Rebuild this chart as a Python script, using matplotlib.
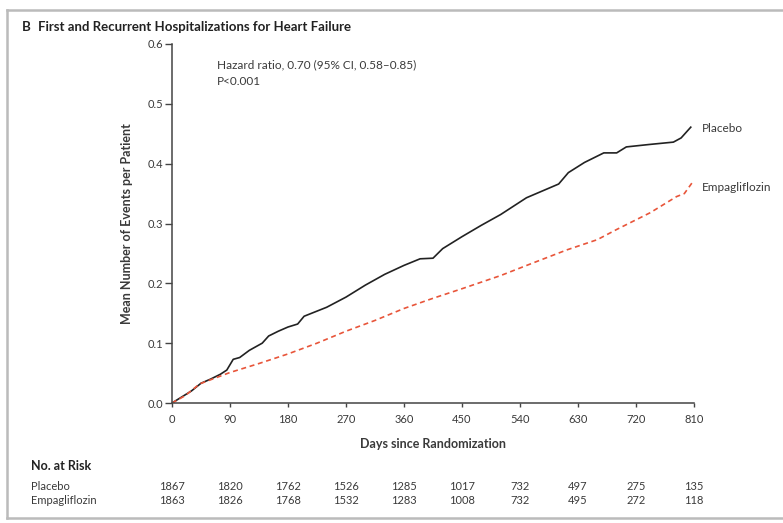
import matplotlib.pyplot as plt
from matplotlib.transforms import blended_transform_factory
from matplotlib.lines import Line2D

plt.rcParams['font.family'] = ['Lato', 'DejaVu Sans']

# cumulative mean events per patient
placebo_days = [0, 15, 30, 45, 60, 75, 85, 95, 105, 120, 140, 150, 165, 180, 195, 205,
                240, 270, 300, 330, 360, 385, 405, 420, 450, 480, 510, 550, 600, 615,
                640, 670, 690, 705, 740, 778, 790, 805]
placebo_vals = [0, 0.010, 0.020, 0.033, 0.040, 0.048, 0.055, 0.073, 0.076, 0.088, 0.100,
                0.112, 0.120, 0.127, 0.132, 0.145, 0.160, 0.177, 0.197, 0.215, 0.230,
                0.241, 0.242, 0.258, 0.278, 0.297, 0.315, 0.343, 0.366, 0.385, 0.402,
                0.418, 0.418, 0.428, 0.432, 0.436, 0.443, 0.461]

empa_days = [0, 20, 43, 90, 135, 180, 225, 270, 315, 360, 405, 450, 510, 560, 613,
             660, 690, 742, 783, 795, 807]
empa_vals = [0, 0.012, 0.032, 0.051, 0.066, 0.082, 0.100, 0.120, 0.138, 0.158, 0.175,
             0.191, 0.213, 0.234, 0.256, 0.273, 0.290, 0.318, 0.345, 0.350, 0.368]

x_ticks = [0, 90, 180, 270, 360, 450, 540, 630, 720, 810]
y_ticks = [0.0, 0.1, 0.2, 0.3, 0.4, 0.5, 0.6]
risk_placebo = [1867, 1820, 1762, 1526, 1285, 1017, 732, 497, 275, 135]
risk_empa = [1863, 1826, 1768, 1532, 1283, 1008, 732, 495, 272, 118]

txt = '#3a3a3a'
fig = plt.figure(figsize=(7.83, 5.23), dpi=100)
ax = fig.add_axes([172/783, 1-403/523, (694-172)/783, (403-44)/523])

ax.plot(placebo_days, placebo_vals, color='#222222', lw=1.2)
ax.plot(empa_days, empa_vals, color='#e8553a', lw=1.2, linestyle=(0, (3, 2.2)))

ax.set_xlim(0, 810)
ax.set_ylim(0, 0.6)
ax.set_xticks(x_ticks)
ax.set_yticks(y_ticks)
ax.set_yticklabels(['%.1f' % v for v in y_ticks])
for s in ['top', 'right']:
    ax.spines[s].set_visible(False)
for s in ['left', 'bottom']:
    ax.spines[s].set_color('#444444')
    ax.spines[s].set_linewidth(1.1)
ax.tick_params(axis='x', direction='out', length=3, width=1, color='#444444',
               labelsize=8, labelcolor=txt, pad=5)
ax.tick_params(axis='y', direction='out', length=5, width=1, color='#444444',
               labelsize=8, labelcolor=txt, pad=1.5)

ax.set_xlabel('Days since Randomization', fontsize=9, fontweight='bold',
              color=txt, labelpad=9)
ax.set_ylabel('Mean Number of Events per Patient', fontsize=9, fontweight='bold',
              color=txt, labelpad=10)

ax.text(70, 0.565, 'Hazard ratio, 0.70 (95% CI, 0.58\u20130.85)', fontsize=8.5,
        color=txt, va='center')
ax.text(70, 0.537, 'P<0.001', fontsize=8.5, color=txt, va='center')

ax.text(822, 0.458, 'Placebo', fontsize=8.5, color=txt, va='center', clip_on=False)
ax.text(822, 0.36, 'Empagliflozin', fontsize=8.5, color=txt, va='center', clip_on=False)

fig.text(22/783, 1-27/523, 'B', fontsize=9.5, fontweight='bold', color='#222222', va='center')
fig.text(38/783, 1-27/523, 'First and Recurrent Hospitalizations for Heart Failure',
         fontsize=9.5, fontweight='bold', color='#222222', va='center')

# number at risk table
fig.text(31/783, 1-466/523, 'No. at Risk', fontsize=9, fontweight='bold',
         color='#222222', va='center')
fig.text(31/783, 1-486/523, 'Placebo', fontsize=8, color=txt, va='center')
fig.text(31/783, 1-500/523, 'Empagliflozin', fontsize=8, color=txt, va='center')
tr = blended_transform_factory(ax.transData, fig.transFigure)
for d, p, e in zip(x_ticks, risk_placebo, risk_empa):
    ax.text(d, 1-486/523, str(p), transform=tr, fontsize=8, color=txt,
            ha='center', va='center')
    ax.text(d, 1-500/523, str(e), transform=tr, fontsize=8, color=txt,
            ha='center', va='center')

# light frame around the panel (top, left, bottom)
frame = dict(transform=fig.transFigure, color='#bbbbbb', lw=1.8)
fig.add_artist(Line2D([7/783, 1], [1-10/523, 1-10/523], **frame))
fig.add_artist(Line2D([7/783, 7/783], [1-10/523, 1-518/523], **frame))
fig.add_artist(Line2D([7/783, 1], [1-518/523, 1-518/523], **frame))

fig.savefig('out.png', dpi=100)
